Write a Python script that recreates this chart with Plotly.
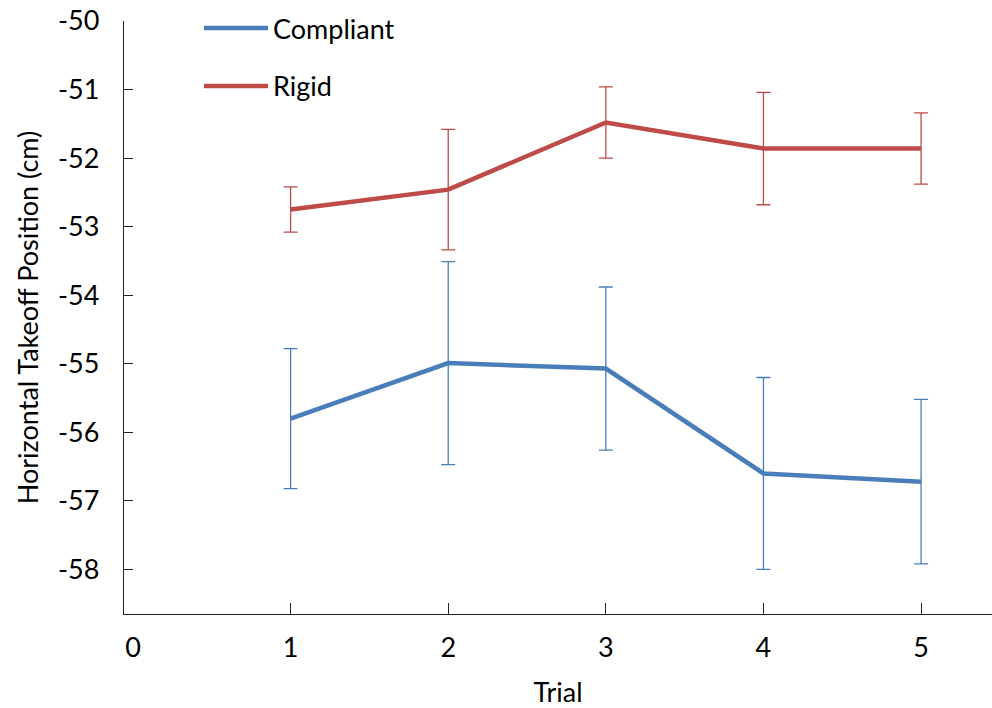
import plotly.graph_objects as go

# Mean horizontal takeoff position per trial, with standard error
trials = [1, 2, 3, 4, 5]
compliant_mean = [-55.80, -54.99, -55.07, -56.60, -56.72]
compliant_err = [1.02, 1.48, 1.19, 1.40, 1.20]
rigid_mean = [-52.75, -52.46, -51.48, -51.86, -51.86]
rigid_err = [0.33, 0.88, 0.52, 0.82, 0.52]

x_ticks = [0, 1, 2, 3, 4, 5]
y_ticks = [-50, -51, -52, -53, -54, -55, -56, -57, -58]
y_tick_text = ["-50", "-51", "-52", "-53", "-54", "-55", "-56", "-57", "-58"]

BLUE = "#4a7ebb"
RED = "#be4b48"
FONT = "Lato"
FS = 27

fig = go.Figure()

for name, mean, err, color in [
    ("Compliant", compliant_mean, compliant_err, BLUE),
    ("Rigid", rigid_mean, rigid_err, RED),
]:
    fig.add_trace(go.Scatter(
        x=trials, y=mean, name=name, mode="lines",
        line=dict(color=color, width=4.5),
        error_y=dict(type="data", array=err, visible=True,
                     color=color, thickness=1.3, width=7),
        showlegend=False,
    ))

# Legend drawn as line samples plus labels in the upper-left corner
legend_items = [("Compliant", BLUE, 28), ("Rigid", RED, 86)]
plot_top, plot_h, plot_left, plot_w = 21, 593, 124, 868
for label, color, ypix in legend_items:
    yp = 1 - (ypix - plot_top) / plot_h
    fig.add_shape(type="line", xref="paper", yref="paper",
                  x0=(204 - plot_left) / plot_w, x1=(268 - plot_left) / plot_w,
                  y0=yp, y1=yp, line=dict(color=color, width=4.5))
    fig.add_annotation(xref="paper", yref="paper",
                       x=(271 - plot_left) / plot_w, y=yp,
                       text=label, showarrow=False, xanchor="left", yanchor="middle",
                       font=dict(family=FONT, size=FS, color="black"))

axis_common = dict(
    showgrid=False, zeroline=False, showline=True,
    linecolor="#222222", linewidth=1.3,
    tickfont=dict(family=FONT, size=FS, color="black"),
    title_font=dict(family=FONT, size=FS, color="black"),
)

fig.update_xaxes(
    range=[-0.057, 5.45], tickvals=x_ticks, ticks="",
    minor=dict(tickvals=trials, ticks="inside", ticklen=11,
               tickwidth=1.3, tickcolor="#222222"),
    ticklabelstandoff=9,
    title_text="Trial", title_standoff=26,
    **axis_common,
)
fig.update_yaxes(
    range=[-58.65, -50], tickvals=y_ticks, ticktext=y_tick_text, ticks="inside",
    ticklen=9, tickwidth=1.3, tickcolor="#222222",
    ticklabelstandoff=18,
    title_text="Horizontal Takeoff Position (cm)", title_standoff=11,
    **axis_common,
)

fig.update_layout(
    width=992, height=708,
    margin=dict(l=124, r=0, t=21, b=94),
    plot_bgcolor="white", paper_bgcolor="white",
    font=dict(family=FONT, color="black"),
)

fig.write_html("out.html")
